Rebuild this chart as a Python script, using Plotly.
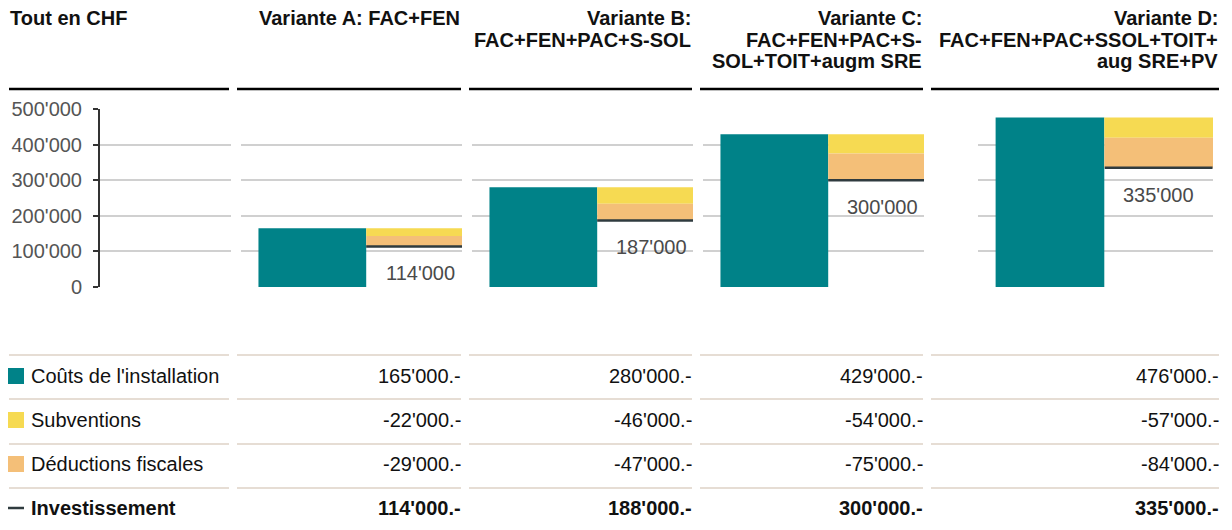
import plotly.graph_objects as go

# Tout en CHF
en_tetes = [
    ["Variante A: FAC+FEN"],
    ["Variante B:", "FAC+FEN+PAC+S-SOL"],
    ["Variante C:", "FAC+FEN+PAC+S-", "SOL+TOIT+augm SRE"],
    ["Variante D:", "FAC+FEN+PAC+SSOL+TOIT+", "aug SRE+PV"],
]
couts = [165000, 280000, 429000, 476000]
subventions = [-22000, -46000, -54000, -57000]
deductions = [-29000, -47000, -75000, -84000]
investissement = [114000, 188000, 300000, 335000]
lignes = ["Coûts de l'installation", "Subventions", "Déductions fiscales", "Investissement"]
y_ticks = [0, 100000, 200000, 300000, 400000, 500000]

TEAL = "#008288"
JAUNE = "#f6da52"
ORANGE = "#f4bf78"
TRAIT = "#2f3b3f"
GRILLE = "#d0d0d0"
BEIGE = "#e6ddd4"
FONT = "Liberation Sans, Arial, sans-serif"
TAILLE = 20

W, H = 1232, 530


def px(x):
    return x / W


def py(y):
    return 1 - y / H


def chf(v):
    return f"{v:,}".replace(",", "'")


# mise en page (pixels)
col_left = [9, 237, 469, 700, 931]
col_right = [229, 461, 692, 923, 1219]
plot_x = [(100, 231), (241, 462), (472, 693), (703, 924), (978, 1213)]
plot_y = (109, 287)
x_right = [1.389, 1.389, 1.389, 1.5]
head_y = [18, 39.5, 61]
head_rule = 89
row_y = [376, 420, 464, 508]
rule_y = [355, 399, 444, 488]

fig = go.Figure()
# sous-graphe vide pour l'axe y
fig.add_trace(go.Scatter(x=[], y=[], xaxis="x", yaxis="y", showlegend=False))

annotations = []
for k in range(4):
    n = str(k + 2)
    inv = couts[k] + subventions[k] + deductions[k]
    fig.add_trace(go.Bar(x=[0], y=[couts[k]], width=1, marker=dict(color=TEAL, line_width=0),
                         xaxis="x" + n, yaxis="y" + n, showlegend=False, hoverinfo="skip"))
    fig.add_trace(go.Bar(x=[1], y=[-subventions[k]], base=[couts[k] + subventions[k]], width=1,
                         marker=dict(color=JAUNE, line_width=0),
                         xaxis="x" + n, yaxis="y" + n, showlegend=False, hoverinfo="skip"))
    fig.add_trace(go.Bar(x=[1], y=[-deductions[k]], base=[inv], width=1,
                         marker=dict(color=ORANGE, line_width=0),
                         xaxis="x" + n, yaxis="y" + n, showlegend=False, hoverinfo="skip"))
    fig.add_trace(go.Scatter(x=[1], y=[inv], mode="markers",
                             marker=dict(symbol="line-ew", size=77, line=dict(color=TRAIT, width=2.5)),
                             xaxis="x" + n, yaxis="y" + n, showlegend=False, hoverinfo="skip"))
    annotations.append(dict(x=1, y=inv, xref="x" + n, yref="y" + n, text=chf(inv), showarrow=False,
                            yshift=-27, font=dict(size=TAILLE, color="#4a4a4a")))

layout_axes = {}
for i in range(5):
    s = "" if i == 0 else str(i + 1)
    a, b = plot_x[i]
    layout_axes["xaxis" + s] = dict(domain=[px(a), px(b)], anchor="y" + s, visible=False,
                                    automargin=False,
                                    range=[0, 1] if i == 0 else [-0.662, x_right[i - 1]])
    ya = dict(domain=[py(plot_y[1]), py(plot_y[0])], anchor="x" + s, range=[0, 500000],
              tickvals=y_ticks, showgrid=True, gridcolor=GRILLE, gridwidth=2, zeroline=False,
              fixedrange=True, automargin=False)
    if i == 0:
        ya.update(showline=True, linecolor="#333333", linewidth=2, ticks="outside", ticklen=5,
                  tickwidth=2, tickcolor="#333333", tickformat=",", ticklabelstandoff=7,
                  tickfont=dict(size=TAILLE, color="#555555"))
    else:
        ya.update(showticklabels=False, showline=False, ticks="")
    layout_axes["yaxis" + s] = ya

shapes = []
# en-têtes
annotations.append(dict(x=px(8), y=py(head_y[0]), xref="paper", yref="paper", xanchor="left",
                        yanchor="middle", text="<b>Tout en CHF</b>", showarrow=False,
                        font=dict(size=TAILLE, color="#111111")))
for k, txt in enumerate(en_tetes):
    for j, line in enumerate(txt):
        annotations.append(dict(x=px(col_right[k + 1] + 1), y=py(head_y[j]), xref="paper", yref="paper",
                                xanchor="right", yanchor="middle", text="<b>" + line + "</b>",
                                showarrow=False, font=dict(size=TAILLE, color="#111111")))
for c in range(5):
    shapes.append(dict(type="line", xref="paper", yref="paper", x0=px(col_left[c]), x1=px(col_right[c]),
                       y0=py(head_rule), y1=py(head_rule), line=dict(color="#000000", width=2.5)))
    for ry in rule_y:
        shapes.append(dict(type="line", xref="paper", yref="paper", x0=px(col_left[c]), x1=px(col_right[c]),
                           y0=py(ry), y1=py(ry), line=dict(color=BEIGE, width=2)))

# tableau
valeurs = [couts, subventions, deductions, investissement]
couleurs = [TEAL, JAUNE, ORANGE]
for r, nom in enumerate(lignes):
    gras = r == 3
    annotations.append(dict(x=px(29), y=py(row_y[r]), xref="paper", yref="paper", xanchor="left",
                            yanchor="middle", text=("<b>%s</b>" if gras else "%s") % nom, showarrow=False,
                            font=dict(size=TAILLE, color="#111111")))
    if r < 3:
        shapes.append(dict(type="rect", xref="paper", yref="paper", x0=px(8), x1=px(24),
                           y0=py(row_y[r] + 8), y1=py(row_y[r] - 8), fillcolor=couleurs[r], line_width=0))
    else:
        shapes.append(dict(type="line", xref="paper", yref="paper", x0=px(8), x1=px(24),
                           y0=py(row_y[r]), y1=py(row_y[r]), line=dict(color=TRAIT, width=2.5)))
    for k in range(4):
        t = chf(valeurs[r][k]) + ".-"
        annotations.append(dict(x=px(col_right[k + 1] + 2), y=py(row_y[r]), xref="paper", yref="paper",
                                xanchor="right", yanchor="middle", text=("<b>%s</b>" if gras else "%s") % t,
                                showarrow=False, font=dict(size=TAILLE, color="#111111")))

fig.update_layout(
    width=W, height=H, autosize=False,
    margin=dict(l=0, r=0, t=0, b=0, pad=0, autoexpand=False),
    paper_bgcolor="white", plot_bgcolor="white",
    barmode="overlay", separators=".'",
    font=dict(family=FONT, size=TAILLE),
    showlegend=False,
    annotations=annotations, shapes=shapes,
    **layout_axes,
)

fig.write_html("out.html", config={"displayModeBar": False},
               post_script="document.body.style.margin='0px';")
